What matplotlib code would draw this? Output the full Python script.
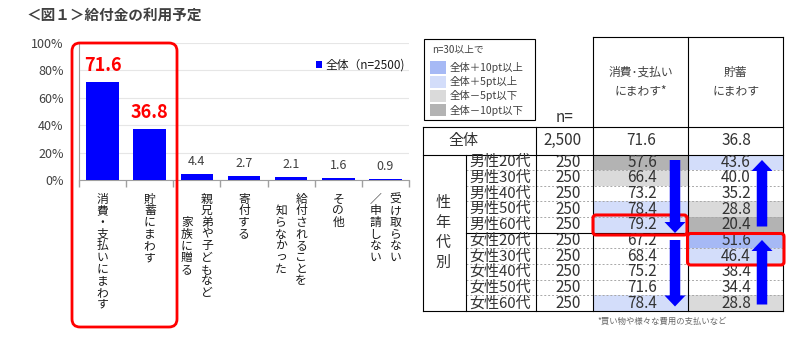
import matplotlib
matplotlib.use('Agg')
import matplotlib.pyplot as plt
from matplotlib.patches import Rectangle, FancyBboxPatch, FancyArrow
from matplotlib.transforms import offset_copy

plt.rcParams['font.family'] = ['Noto Sans CJK JP', 'DejaVu Sans']

# ---------------- data ----------------
categories = ["消費・支払いにまわす", "貯蓄にまわす", "親兄弟や子どもなど\n家族に贈る", "寄付する",
              "給付されることを\n知らなかった", "その他", "受け取らない\n／申請しない"]
values = [71.6, 36.8, 4.4, 2.7, 2.1, 1.6, 0.9]
yticks = [0, 20, 40, 60, 80, 100]
legend_label = "全体（n=2500)"

row_labels = ["男性20代", "男性30代", "男性40代", "男性50代", "男性60代",
              "女性20代", "女性30代", "女性40代", "女性50代", "女性60代"]
row_n = [250, 250, 250, 250, 250, 250, 250, 250, 250, 250]
spend = [57.6, 66.4, 73.2, 78.4, 79.2, 67.2, 68.4, 75.2, 71.6, 78.4]
save = [43.6, 40.0, 35.2, 28.8, 20.4, 51.6, 46.4, 38.4, 34.4, 28.8]
col_headers = ["消費･支払い\nにまわす*", "貯蓄\nにまわす"]
total_label = "全体"
total_n = 2500
totals = [71.6, 36.8]
group_label = "性年代別"
legend_items = ["全体＋10pt以上", "全体＋5pt以上", "全体－5pt以下", "全体－10pt以下"]
legend_colors = ["#a6b9f5", "#d3ddfa", "#dadada", "#b3b3b3"]
footnote = "*買い物や様々な費用の支払いなど"

W, H = 786, 344
TXT = '#404040'
TT = '#333333'
fig = plt.figure(figsize=(W / 100, H / 100), dpi=100)

# ---------------- bar chart ----------------
ax = fig.add_axes([79 / W, 1 - 180 / H, 330 / W, 137.3 / H])
x = list(range(len(values)))
ax.bar(x, values, width=0.69, color='#0000FF', label=legend_label, zorder=3)
ax.set_xlim(-0.5, len(values) - 0.5)
ax.set_ylim(0, 100)
ax.set_yticks(yticks)
ax.set_yticklabels([f"{t}%" for t in yticks], fontsize=9, color=TXT)
ax.tick_params(axis='y', length=0, pad=11)
ax.set_xticks([i - 0.5 for i in range(len(values) + 1)])
ax.set_xticklabels([])
ax.tick_params(axis='x', length=5, color='#a0a0a0', direction='out', width=1)
ax.grid(axis='y', color='#e6e6e6', lw=0.8, zorder=0)
ax.set_axisbelow(True)
for s in ['top', 'right']:
    ax.spines[s].set_visible(False)
for s in ['left', 'bottom']:
    ax.spines[s].set_color('#a0a0a0')

for i, v in enumerate(values):
    if i < 2:
        ax.annotate(f"{v}", (i, v), xytext=(0, 16.5), textcoords='offset pixels',
                    ha='center', va='center', fontsize=13, fontweight='bold', color='#FF0000')
    else:
        ax.annotate(f"{v}", (i, v), xytext=(0, 12.5), textcoords='offset pixels',
                    ha='center', va='center', fontsize=9, color=TXT)

# vertical category labels
step = 11.7
for i, lab in enumerate(categories):
    cols = lab.split("\n")
    maxlen = max(len(c) for c in cols)
    for j, col in enumerate(cols):
        dx = 0 if len(cols) == 1 else (10 if j == 0 else -10)
        start = (maxlen - len(col)) / 2 * step
        for k, ch in enumerate(col):
            tr = offset_copy(ax.get_xaxis_transform(), fig=fig, x=dx,
                             y=-(22.5 + start + k * step), units='dots')
            ax.text(i, 0, ch, transform=tr, ha='center', va='baseline',
                    fontsize=8.5, color='#1a1a1a', clip_on=False)

ax.legend(loc='center left', bbox_to_anchor=((316 - 79) / 330, (180 - 65) / 137.3),
          frameon=False, fontsize=8.5, handlelength=0.55, handleheight=0.55,
          handletextpad=0.3, borderpad=0, borderaxespad=0, labelcolor='#1a1a1a')

# ---------------- overlay (pixel coordinates) ----------------
ov = fig.add_axes([0, 0, 1, 1])
ov.set_xlim(0, W)
ov.set_ylim(H, 0)
ov.axis('off')

ov.text(27, 15, "＜図１＞給付金の利用予定", fontsize=10.5, fontweight='bold',
        color=TXT, ha='left', va='center')
ov.add_patch(FancyBboxPatch((72, 43), 105, 284, boxstyle="round,pad=0,rounding_size=8",
                            fill=False, ec='#FF0000', lw=2))

# table legend
ov.add_patch(Rectangle((424, 39), 111, 81, fill=False, ec='black', lw=0.8))
ov.text(432, 50, "n=30以上で", fontsize=7, color=TXT, ha='left', va='center')
for k, (lab, c) in enumerate(zip(legend_items, legend_colors)):
    yc = 67.5 + k * 14.2
    ov.add_patch(Rectangle((430, yc - 6.2), 16, 12.4, fc=c, ec='none'))
    ov.text(450, yc, lab, fontsize=7.5, color=TXT, ha='left', va='center')

# table geometry
xL, xG, xN, xC1, xC2, xR = 423, 466, 536, 593, 688, 783
yHead, yTot, y0, yB = 37, 127, 154.5, 311
rh = (yB - y0) / len(row_labels)
lw = 0.8
FS = 11


def cell_color(v, t):
    d = round(v - t, 1)
    if d >= 10:
        return legend_colors[0]
    if d >= 5:
        return legend_colors[1]
    if d <= -10:
        return legend_colors[3]
    if d <= -5:
        return legend_colors[2]
    return None


for r in range(len(row_labels)):
    yt = y0 + r * rh
    for (xa, xb), val, tot in [((xC1, xC2), spend[r], totals[0]), ((xC2, xR), save[r], totals[1])]:
        c = cell_color(val, tot)
        if c:
            ov.add_patch(Rectangle((xa, yt), xb - xa, rh, fc=c, ec='none'))
    yc = yt + rh / 2
    ov.text(469.5, yc, row_labels[r], fontsize=10.8, color=TT, ha='left', va='center')
    ov.text(568, yc, f"{row_n[r]}", fontsize=FS, color=TT, ha='center', va='center')
    ov.text(642, yc, f"{spend[r]:.1f}", fontsize=FS, color=TT, ha='center', va='center')
    ov.text(736, yc, f"{save[r]:.1f}", fontsize=FS, color=TT, ha='center', va='center')
    if r > 0:
        if r == 5:
            ov.plot([xG, xR], [yt, yt], color='black', lw=lw)
        else:
            ov.plot([xG, xR], [yt, yt], color='#a8a8a8', lw=0.7, ls=(0, (2, 2)))

# header & totals
ov.text(640.5, 81.5, col_headers[0], fontsize=8.5, color=TXT, ha='center', va='center',
        linespacing=1.55)
ov.text(735.5, 81.5, col_headers[1], fontsize=8.5, color=TXT, ha='center', va='center',
        linespacing=1.55)
ov.text(565, 118, "n=", fontsize=FS, color=TT, ha='center', va='center')
ty = (yTot + y0) / 2
ov.text(463, ty, total_label, fontsize=10.8, color=TT, ha='center', va='center')
ov.text(563, ty, f"{total_n:,}", fontsize=FS, color=TT, ha='center', va='center')
ov.text(641, ty, f"{totals[0]}", fontsize=FS, color=TT, ha='center', va='center')
ov.text(736, ty, f"{totals[1]}", fontsize=FS, color=TT, ha='center', va='center')

for k, ch in enumerate(group_label):
    ov.text(443, 203.5 + k * 19.8, ch, fontsize=10.8, color=TT, ha='center', va='center')

# grid lines
segs = [([xL, xL], [yTot, yB]), ([xG, xG], [y0, yB]), ([xN, xN], [yTot, yB]),
        ([xC1, xC1], [yHead, yB]), ([xC2, xC2], [yHead, yB]), ([xR, xR], [yHead, yB]),
        ([xC1, xR], [yHead, yHead]), ([xL, xR], [yTot, yTot]), ([xL, xR], [y0, y0]),
        ([xL, xR], [yB, yB])]
for xs, ys in segs:
    ov.plot(xs, ys, color='black', lw=lw, solid_capstyle='projecting')

# red highlight boxes
ov.add_patch(FancyBboxPatch((593, 215), 94, 20, boxstyle="round,pad=0,rounding_size=3",
                            fill=False, ec='#FF0000', lw=2.2, zorder=5))
ov.add_patch(FancyBboxPatch((687.5, 233.5), 96.5, 31.5, boxstyle="round,pad=0,rounding_size=3",
                            fill=False, ec='#FF0000', lw=2.2, zorder=5))

# arrows
arrows = [(675, 160, 233), (675, 240, 306.5), (762, 226.5, 160), (762, 304.5, 240)]
for ax_x, ys, ye in arrows:
    ov.add_patch(FancyArrow(ax_x, ys, 0, ye - ys, width=10.5, head_width=21, head_length=11,
                            length_includes_head=True, fc='#0000FF', ec='none', zorder=6))

ov.text(597, 321, footnote, fontsize=6, color='#666666', ha='left', va='center')

fig.savefig('out.png', dpi=100)
